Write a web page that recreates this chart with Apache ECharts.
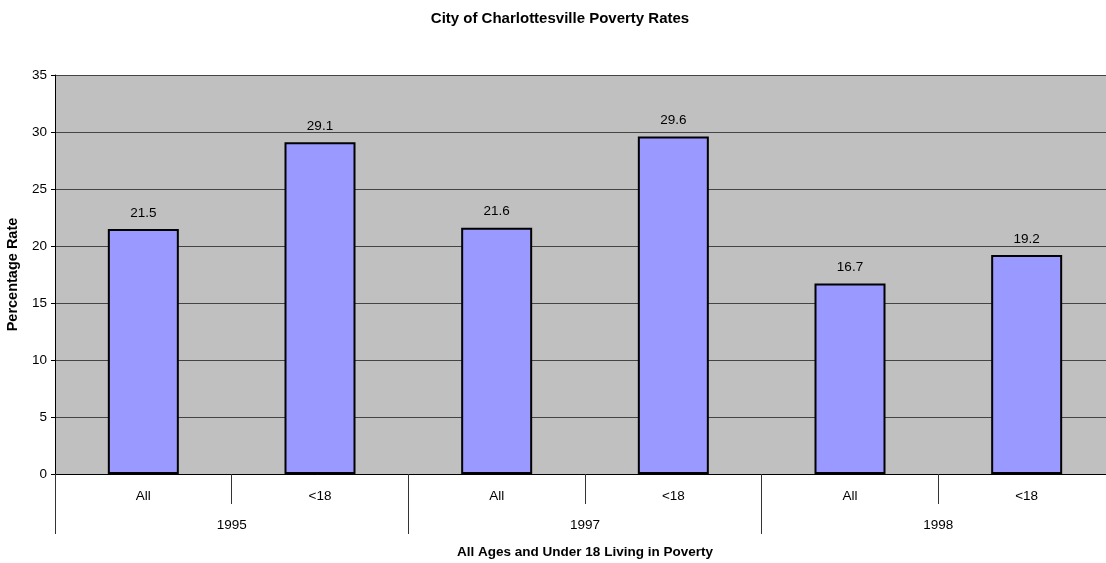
<!DOCTYPE html>
<html>
<head>
<meta charset="utf-8">
<script src="https://cdn.jsdelivr.net/npm/echarts@6/dist/echarts.min.js"></script>
<style>
  html, body { margin: 0; padding: 0; background: #fff; }
  #chart { width: 1106px; height: 563px; }
</style>
</head>
<body>
<div id="chart"></div>
<script>
// Poverty rates by year, all ages vs. under 18
const groups = ['All', '<18', 'All', '<18', 'All', '<18'];
const years = ['1995', '1997', '1998'];
const rates = [21.5, 29.1, 21.6, 29.6, 16.7, 19.2];
const yTicks = { min: 0, max: 35, step: 5 };

const FONT = '"Liberation Sans", Arial, sans-serif';
const LABEL_SIZE = 13.5;
const chart = echarts.init(document.getElementById('chart'), null, { renderer: 'canvas' });

chart.setOption({
  animation: false,
  backgroundColor: '#ffffff',
  title: {
    text: 'City of Charlottesville Poverty Rates',
    left: 555,
    top: 6,
    textAlign: 'center',
    textStyle: { fontFamily: FONT, fontSize: 15, fontWeight: 'bold', color: '#000' }
  },
  grid: {
    left: 55, right: -9, top: 75, bottom: 89,
    show: true, backgroundColor: '#c0c0c0', borderWidth: 0,
    containLabel: false,
    outerBoundsMode: 'none'
  },
  xAxis: [
    {
      type: 'category',
      data: groups,
      position: 'bottom',
      axisLine: { show: true, lineStyle: { color: '#000', width: 1 } },
      axisTick: { show: true, length: 30, alignWithLabel: false, lineStyle: { color: '#333' } },
      axisLabel: { margin: 15, fontFamily: FONT, fontSize: LABEL_SIZE, color: '#000' },
      name: 'All Ages and Under 18 Living in Poverty',
      nameLocation: 'middle',
      nameGap: 71,
      nameTextStyle: { fontFamily: FONT, fontSize: 13.5, fontWeight: 'bold', color: '#000' }
    },
    {
      type: 'category',
      data: years,
      position: 'bottom',
      axisLine: { show: false },
      axisTick: { show: true, length: 60, lineStyle: { color: '#333' } },
      axisLabel: { margin: 44, fontFamily: FONT, fontSize: LABEL_SIZE, color: '#000' },
      splitLine: { show: false }
    }
  ],
  yAxis: {
    type: 'value',
    min: yTicks.min,
    max: yTicks.max,
    interval: yTicks.step,
    axisLine: { show: true, lineStyle: { color: '#000', width: 1 } },
    axisTick: { show: true, length: 4, lineStyle: { color: '#000' } },
    axisLabel: { margin: 8, fontFamily: FONT, fontSize: LABEL_SIZE, color: '#000' },
    splitLine: { show: true, lineStyle: { color: '#444', width: 1.2 } },
    name: 'Percentage Rate',
    nameLocation: 'middle',
    nameGap: 35,
    nameRotate: 90,
    nameTextStyle: { fontFamily: FONT, fontSize: 14.5, fontWeight: 'bold', color: '#000' }
  },
  series: [{
    type: 'bar',
    xAxisIndex: 0,
    data: rates,
    barWidth: 71,
    itemStyle: { color: '#9999ff', borderColor: '#000', borderWidth: 2 },
    label: {
      show: true,
      position: 'top',
      distance: 9,
      fontFamily: FONT,
      fontSize: LABEL_SIZE,
      color: '#000'
    }
  }]
});
</script>
</body>
</html>
